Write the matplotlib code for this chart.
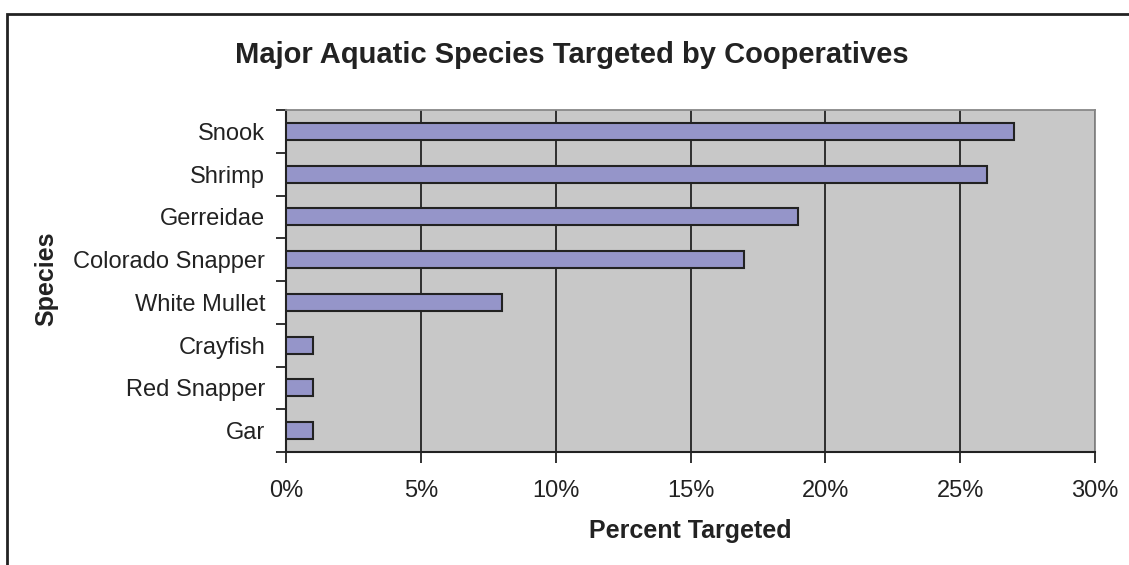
import matplotlib.pyplot as plt
from matplotlib.patches import Rectangle
from matplotlib.ticker import FuncFormatter, MultipleLocator
import numpy as np

plt.rcParams['font.family'] = ['Liberation Sans', 'DejaVu Sans']

# Data (bottom to top as drawn)
species = ["Gar", "Red Snapper", "Crayfish", "White Mullet",
           "Colorado Snapper", "Gerreidae", "Shrimp", "Snook"]
percent = [1, 1, 1, 8, 17, 19, 26, 27]

W, H = 1129, 565
fig = plt.figure(figsize=(W / 100, H / 100), dpi=100)

# outer chart frame (cut off at right and bottom like the original)
frame = Rectangle((7 / W, -0.1), 1.2, 1 - 14 / H + 0.1,
                  transform=fig.transFigure, fill=False,
                  edgecolor='#222222', linewidth=2)
fig.patches.append(frame)

ax = fig.add_axes([286 / W, 1 - 452 / H, (1095 - 286) / W, (452 - 110) / H])
ax.set_facecolor('#C8C8C8')

y = np.arange(len(species))
ax.barh(y, percent, height=0.4, color='#9595C9', edgecolor='#222222',
        linewidth=1.5, zorder=3)

ax.set_xlim(0, 30)
ax.set_ylim(-0.5, len(species) - 0.5)
ax.xaxis.set_major_locator(MultipleLocator(5))
ax.xaxis.set_major_formatter(FuncFormatter(lambda v, p: f"{v:.0f}%"))
ax.grid(axis='x', color='#222222', linewidth=1.3, zorder=1)

# category labels centered, ticks at the boundaries
ax.set_yticks(y)
ax.set_yticklabels(species, color='#222222')
ax.set_yticks(np.arange(-0.5, len(species)), minor=True)
ax.tick_params(axis='y', which='major', length=0, pad=15, labelsize=17)
ax.tick_params(axis='y', which='minor', length=7, width=1.3, color='#222222')
ax.tick_params(axis='x', length=8, width=1.3, color='#222222', pad=12,
               labelsize=17, labelcolor='#222222')

for s in ['top', 'right']:
    ax.spines[s].set_color('#888888')
    ax.spines[s].set_linewidth(1.3)
for s in ['left', 'bottom']:
    ax.spines[s].set_color('#222222')
    ax.spines[s].set_linewidth(1.5)

fig.text(690 / W, 1 - 531 / H, "Percent Targeted", ha='center', va='center',
         fontsize=18, fontweight='bold', color='#222222')
fig.text(46 / W, 1 - 279 / H, "Species", ha='center', va='center', rotation=90,
         fontsize=18, fontweight='bold', color='#222222')

fig.text(572 / W, 1 - 63 / H, "Major Aquatic Species Targeted by Cooperatives",
         ha='center', va='baseline', fontsize=21, fontweight='bold', color='#222222')

fig.savefig("out.png", dpi=100)
